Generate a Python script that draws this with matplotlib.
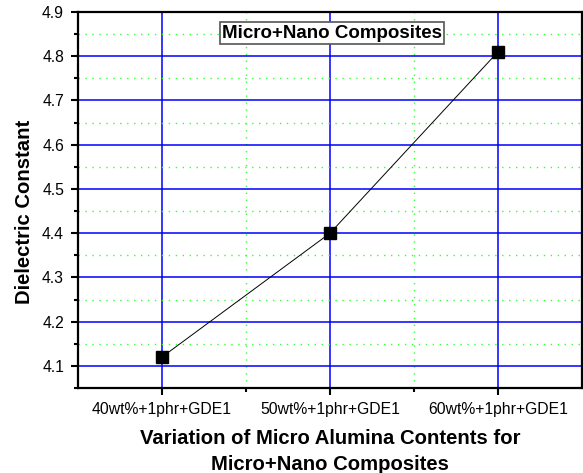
import matplotlib.pyplot as plt
from matplotlib.ticker import MultipleLocator, FixedLocator

plt.rcParams['font.family'] = ['Liberation Sans', 'DejaVu Sans']

samples = ['40wt%+1phr+GDE1', '50wt%+1phr+GDE1', '60wt%+1phr+GDE1']
dielectric = [4.12, 4.40, 4.81]
positions = [1, 2, 3]

fig = plt.figure(figsize=(5.83, 4.73), dpi=100)
ax = fig.add_axes([78 / 583, 1 - 388 / 473, 504 / 583, 376 / 473])

ax.plot(positions, dielectric, color='black', lw=0.7, marker='s',
        markersize=8, markerfacecolor='black', markeredgecolor='black', zorder=5)

ax.set_xlim(0.5, 3.5)
ax.set_ylim(4.05, 4.9)

ax.xaxis.set_major_locator(FixedLocator(positions))
ax.xaxis.set_minor_locator(FixedLocator([1.5, 2.5]))
ax.set_xticklabels(samples)
ax.yaxis.set_major_locator(MultipleLocator(0.1))
ax.yaxis.set_minor_locator(MultipleLocator(0.05))
ax.yaxis.set_major_formatter(plt.FormatStrFormatter('%.1f'))

ax.grid(which='major', color='#0000ff', lw=1.1, ls='-')
ax.grid(which='minor', color='#33ff33', lw=1.0, ls=(0, (1, 4)))
ax.set_axisbelow(True)

ax.tick_params(which='major', direction='out', length=5, width=1.5, labelsize=11.3, pad=5)
ax.tick_params(which='minor', direction='out', length=3, width=1.5)
for s in ax.spines.values():
    s.set_linewidth(1.6)

ax.set_ylabel('Dielectric Constant', fontsize=14.6, fontweight='bold')
ax.yaxis.set_label_coords(-0.087, 0.468)
ax.set_xlabel('Variation of Micro Alumina Contents for\nMicro+Nano Composites',
              fontsize=14.6, fontweight='bold', labelpad=9, linespacing=1.45)

ax.text(0.504, 0.944, 'Micro+Nano Composites', transform=ax.transAxes,
        ha='center', va='center', fontsize=13.5, fontweight='bold',
        bbox=dict(boxstyle='square,pad=0.12', fc='white', ec='#555555', lw=1.2), zorder=6)

fig.savefig('out.png', dpi=100)
